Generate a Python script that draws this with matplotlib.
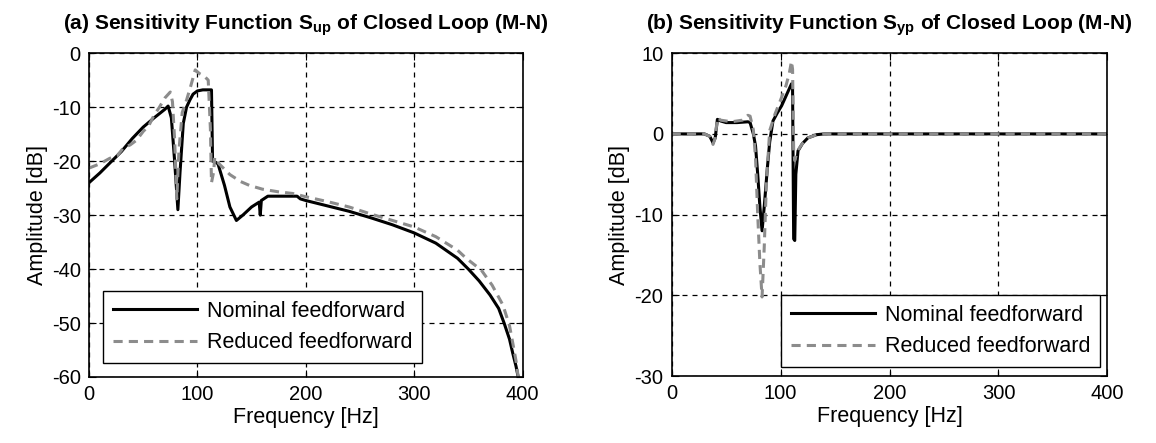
import numpy as np
import matplotlib.pyplot as plt

plt.rcParams['font.family'] = ['Liberation Sans', 'DejaVu Sans']
plt.rcParams['axes.unicode_minus'] = False
plt.rcParams['mathtext.fontset'] = 'custom'
plt.rcParams['mathtext.rm'] = 'Liberation Sans'
plt.rcParams['mathtext.bf'] = 'Liberation Sans:bold'

# (a) S_up
fa_nom = [0, 10, 19, 30, 40, 50, 60, 70, 73, 76, 79, 82, 84, 87, 90, 93, 96, 100, 105, 110, 113,
          114, 115, 119, 125, 130, 136, 142, 150, 157, 158, 159, 165, 175, 185, 192, 195, 200,
          220, 240, 260, 280, 300, 320, 340, 350, 360, 370, 378, 383, 388, 391, 394, 396]
sa_nom = [-24, -22.2, -20.4, -18.2, -15.8, -13.7, -12, -10.4, -9.8, -12, -20, -29, -22, -13, -10,
          -8.7, -7.6, -7, -6.8, -6.8, -6.8, -20, -20, -20.5, -24.5, -28.5, -31, -30, -28.5, -27.6,
          -30, -27.3, -26.5, -26.5, -26.5, -26.5, -27, -27.3, -28.3, -29.3, -30.5, -31.8, -33.3,
          -35.2, -38, -40, -42.2, -44.8, -47.3, -50, -53, -55.6, -58, -60]
fa_red = [0, 10, 19, 26, 32, 38, 44, 50, 55, 60, 65, 70, 75, 77, 79, 81, 83, 86, 90, 94, 98, 102,
          106, 110, 112, 113, 115, 116, 120, 130, 140, 148, 160, 175, 188, 200, 220, 240, 260,
          280, 300, 320, 340, 348, 362, 372, 382, 388, 391, 394, 396]
sa_red = [-21.3, -20.5, -19.5, -19, -17.5, -17, -16.1, -14.5, -13.5, -11.5, -10, -8.3, -7.2, -9,
          -16, -27, -18, -11, -8.7, -6, -3.1, -3.8, -4.2, -5, -14, -24, -22, -19.3, -20.5, -22.5,
          -23.8, -24.5, -25.2, -25.7, -26, -26.6, -27.5, -28.5, -29.8, -31, -32.2, -34, -36.5,
          -38, -40.2, -43, -46.7, -50.5, -53.7, -57, -60]

# (b) S_yp
fb_nom = [0, 30, 35, 38, 40, 42, 45, 50, 60, 70, 72, 75, 77, 79, 81, 83, 85, 88, 90, 93, 97, 101,
          104, 107, 110, 111, 112, 113, 114, 116, 120, 125, 133, 140, 160, 400]
sb_nom = [0, 0, -0.3, -1.1, -0.5, 1.8, 1.6, 1.4, 1.4, 1.5, 1.4, 0, -1.5, -5, -9, -12, -9, -4, -1,
          1.6, 2.6, 3.5, 4.4, 5.3, 6.2, 5.5, -13, -13.2, -5, -2.1, -1.2, -0.5, -0.1, 0, 0, 0]
fb_red = [0, 30, 35, 38, 40, 42, 45, 55, 65, 70, 72, 75, 77, 79, 81, 83, 85, 87, 90, 95, 100, 105,
          108, 110, 111, 112, 113, 114, 116, 120, 125, 133, 140, 160, 400]
sb_red = [0, 0, -0.3, -1.3, -0.5, 2, 1.7, 1.5, 1.7, 2.3, 2.2, 0.5, -3, -10, -16, -20.2, -14, -6,
          0.4, 2.5, 4.2, 6, 7.5, 9, 8, -2, -3.3, -2.8, -2, -1.2, -0.5, -0.1, 0, 0, 0]

gray = '#8c8c8c'

fig = plt.figure(figsize=(11.56, 4.43), dpi=100)
ax1 = fig.add_axes([0.077, 0.149, 0.375, 0.731])
ax2 = fig.add_axes([0.581, 0.151, 0.377, 0.729])


def style(ax):
    ax.grid(True, color='black', linestyle=(0, (4, 4)), linewidth=0.9)
    ax.tick_params(direction='in', top=True, right=True, labelsize=14.5, length=5, pad=6)
    for s in ax.spines.values():
        s.set_linewidth(1.2)
    ax.set_xlabel('Frequency [Hz]', fontsize=15.5, labelpad=2)
    ax.set_ylabel('Amplitude [dB]', fontsize=15.5, labelpad=3)


def legend(ax, loc, anchor):
    leg = ax.legend(loc=loc, bbox_to_anchor=anchor, fontsize=15.5, fancybox=False,
                    framealpha=1, edgecolor='black', handlelength=3.9, handletextpad=0.5,
                    borderaxespad=0, labelspacing=0.5, borderpad=0.45)
    leg.get_frame().set_linewidth(1.0)


ax1.plot(fa_nom, sa_nom, color='black', lw=2.2, label='Nominal feedforward')
ax1.plot(fa_red, sa_red, color=gray, lw=2.2, linestyle=(0, (3, 2)), label='Reduced feedforward')
ax1.set_xlim(0, 400)
ax1.set_ylim(-60, 0)
ax1.set_xticks([0, 100, 200, 300, 400])
ax1.set_yticks(np.arange(-60, 1, 10))
style(ax1)
ax1.set_title(r'(a) Sensitivity Function S$_{\mathbf{up}}$ of Closed Loop (M-N)',
              fontsize=15, fontweight='bold', pad=17)
legend(ax1, 'lower left', (0.032, 0.043))

ax2.plot(fb_nom, sb_nom, color='black', lw=2.2, label='Nominal feedforward')
ax2.plot(fb_red, sb_red, color=gray, lw=2.2, linestyle=(0, (3, 2)), label='Reduced feedforward')
ax2.set_xlim(0, 400)
ax2.set_ylim(-30, 10)
ax2.set_xticks([0, 100, 200, 300, 400])
ax2.set_yticks([-30, -20, -10, 0, 10])
style(ax2)
ax2.set_title(r'(b) Sensitivity Function S$_{\mathbf{yp}}$ of Closed Loop (M-N)',
              fontsize=15, fontweight='bold', pad=17)
legend(ax2, 'lower right', (0.984, 0.028))

fig.savefig('out.png', dpi=100)
